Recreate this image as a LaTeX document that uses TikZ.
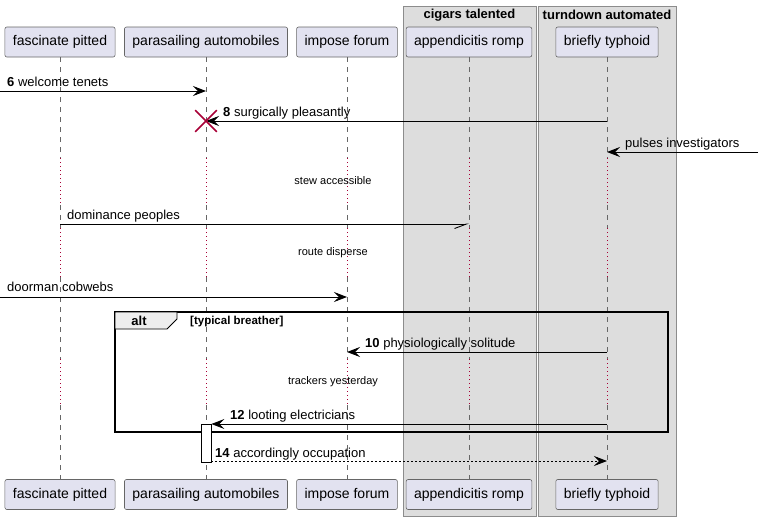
\documentclass[tikz,border=0pt]{standalone}
\usepackage{fontspec}
\setmainfont{Liberation Sans}
\usepackage{xcolor}
\usetikzlibrary{arrows.meta,shapes.misc}

\definecolor{partfill}{HTML}{E2E2F0}
\definecolor{grpfill}{HTML}{DDDDDD}
\definecolor{tabfill}{HTML}{EEEEEE}
\definecolor{killred}{HTML}{A80036}

\begin{document}
\begin{tikzpicture}[x=1pt,y=-1pt,
		actorbox/.style={draw=black!60, fill=partfill, rounded corners=2pt, line width=0.6pt,
			minimum height=30pt, inner xsep=8pt, font=\fontsize{14}{16}\selectfont},
		grp/.style={draw=black!45, fill=grpfill, line width=0.8pt},
		grptitle/.style={font=\fontsize{13}{15}\selectfont\bfseries, inner sep=0},
		life/.style={draw=black!60, line width=0.5pt, dash pattern=on 5pt off 5pt},
		delayline/.style={draw=killred, line width=1pt, dash pattern=on 1.2pt off 2.8pt},
		msg/.style={line width=0.9pt, -{Stealth[length=13pt,width=10pt,inset=5pt]}},
		halfmsg/.style={line width=0.9pt, -{Straight Barb[harpoon,swap,length=12pt,width=9pt]}},
		reply/.style={msg, dash pattern=on 2pt off 2pt},
		lbl/.style={anchor=base west, inner sep=0, font=\fontsize{13}{15}\selectfont},
		delaytxt/.style={inner sep=0, font=\fontsize{11}{13}\selectfont},
		destroy/.style={cross out, draw=killred, line width=1.6pt, minimum size=20pt, inner sep=0},
		act/.style={draw=black, fill=white, line width=0.8pt, minimum width=10pt, minimum height=38pt, inner sep=0}]
	\useasboundingbox (0,0) rectangle (764,520);

	% boxes behind the lifelines
	\draw[grp] (403,6) rectangle (536,516);
	\draw[grp] (538,6) rectangle (676,516);
	\node[grptitle] (g1) at (469.5,15) {cigars talented};
	\node[grptitle] (g2) at (607,15) {turndown automated};

	% participants, top and bottom
	\foreach \n/\x/\t in {fp/60/fascinate pitted, pa/206/parasailing automobiles,
		imf/347/impose forum, ar/469/appendicitis romp, bt/607/briefly typhoid}{
		\node[actorbox] (\n) at (\x,42) {\t};
		\node[actorbox] (\n-b) at (\x,494.5) {\t};
	}

	% delays
	\coordinate (d1a) at (0,158);
	\coordinate (d1b) at (0,205);
	\coordinate (d2a) at (0,228);
	\coordinate (d2b) at (0,277);
	\coordinate (d3a) at (0,359);
	\coordinate (d3b) at (0,405);

	% lifelines
	\foreach \n in {fp,pa,imf,ar,bt}{
		\draw[life] (\n.south) -- (\n |- d1a);
		\draw[delayline] (\n |- d1a) -- (\n |- d1b);
		\draw[life] (\n |- d1b) -- (\n |- d2a);
		\draw[delayline] (\n |- d2a) -- (\n |- d2b);
		\draw[life] (\n |- d2b) -- (\n |- d3a);
		\draw[delayline] (\n |- d3a) -- (\n |- d3b);
		\draw[life] (\n |- d3b) -- (\n-b.north);
	}

	% alt frame
	\draw[line width=1.5pt] (115,312) rectangle (668,432);
	\draw[fill=tabfill, line width=0.9pt] (115,312) -- (177,312) -- (177,319) -- (167,329) -- (115,329) -- cycle;
	\node[font=\fontsize{13}{15}\selectfont\bfseries, inner sep=0] (alt) at (139,321) {alt};
	\node[anchor=west, inner sep=0, font=\fontsize{11.5}{13}\selectfont\bfseries] (guard) at (190,321.5) {[typical breather]};

	% messages
	\coordinate (m6) at (0,91);
	\draw[msg] (m6) -- (pa |- m6);
	\node[lbl] (l6) at (7,86) {\textbf{6} welcome tenets};

	\coordinate (m8) at (0,121);
	\draw[msg] (bt |- m8) -- (pa |- m8);
	\node[destroy] (kill) at (pa |- m8) {};
	\node[lbl] (l8) at (223,116) {\textbf{8} surgically pleasantly};

	\coordinate (m9) at (758,152);
	\draw[msg] (m9) -- (bt |- m9);
	\node[lbl] (l9) at (625,147) {pulses investigators};

	\node[delaytxt] (t1) at (333,181) {stew accessible};

	\coordinate (m10) at (0,224);
	\draw[halfmsg] (fp |- m10) -- (ar |- m10);
	\node[lbl] (l10) at (67,219) {dominance peoples};

	\node[delaytxt] (t2) at (333,253) {route disperse};

	\coordinate (m11) at (0,297);
	\draw[msg] (m11) -- (imf |- m11);
	\node[lbl] (l11) at (7,291) {doorman cobwebs};

	\coordinate (m12) at (0,352);
	\draw[msg] (bt |- m12) -- (imf |- m12);
	\node[lbl] (l12) at (365,347) {\textbf{10} physiologically solitude};

	\node[delaytxt] (t3) at (333,382) {trackers yesterday};

	\node[act] (pa-act) at (206,443) {};
	\coordinate (m13) at (0,424);
	\draw[msg] (bt |- m13) -- (pa-act.east |- m13);
	\node[lbl] (l13) at (230,419) {\textbf{12} looting electricians};

	\coordinate (m14) at (0,461);
	\draw[reply] (pa-act.east |- m14) -- (bt |- m14);
	\node[lbl] (l14) at (215,457) {\textbf{14} accordingly occupation};
\end{tikzpicture}
\end{document}
